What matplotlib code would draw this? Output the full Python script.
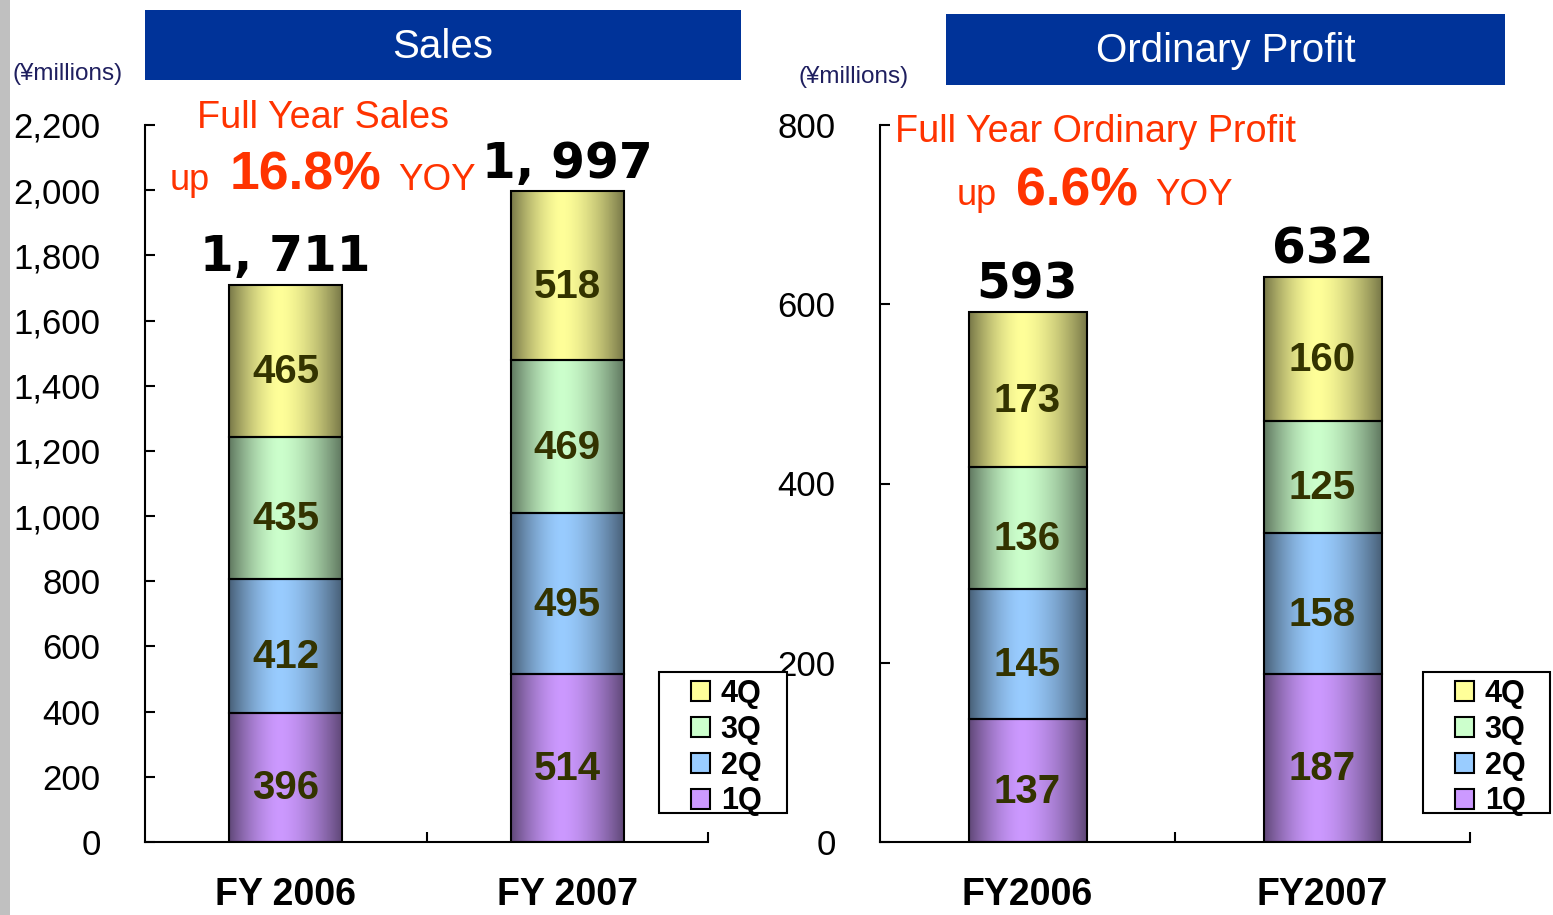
import numpy as np
import matplotlib
matplotlib.use('Agg')
import matplotlib.pyplot as plt
import matplotlib.colors as mcolors
from matplotlib.patches import Patch, Rectangle
from matplotlib.ticker import FuncFormatter

plt.rcParams['font.family'] = ['Liberation Sans', 'DejaVu Sans']

# data (yen millions)
sales_years = ['FY 2006', 'FY 2007']
sales_1q = [396, 514]
sales_2q = [412, 495]
sales_3q = [435, 469]
sales_4q = [465, 518]
sales_total = [1711, 1997]

profit_years = ['FY2006', 'FY2007']
profit_1q = [137, 187]
profit_2q = [145, 158]
profit_3q = [136, 125]
profit_4q = [173, 160]
profit_total = [593, 632]

quarters = ['1Q', '2Q', '3Q', '4Q']
q_colors = ['#CC99FF', '#99CCFF', '#CCFFCC', '#FFFF99']

W, H = 1553, 915


def fx(x):
    return x / W


def fy(y):
    return 1 - y / H


def gradient_fill(ax, bars, color):
    light = np.array(mcolors.to_rgb(color))
    dark = light * 0.47
    t = np.linspace(0, 1, 200)
    d = np.where(t < 0.45, (0.45 - t) / 0.45, (t - 0.45) / 0.55)
    f = 1 - d ** 1.6
    img = (dark + (light - dark) * f[:, None])[None, :, :]
    for b in bars:
        x0, y0 = b.get_xy()
        ax.imshow(img, extent=[x0, x0 + b.get_width(), y0, y0 + b.get_height()],
                  aspect='auto', interpolation='bilinear', zorder=2)


def draw_panel(ax, labels, series, totals, ymax, step):
    x = np.arange(len(labels))
    bottom = np.zeros(len(labels))
    for vals, col in zip(series, q_colors):
        bars = ax.bar(x, vals, 0.4, bottom=bottom, facecolor='none',
                      edgecolor='black', linewidth=1.5, zorder=3)
        gradient_fill(ax, bars, col)
        for b, v in zip(bars, vals):
            ax.annotate(str(v), (b.get_x() + b.get_width() / 2, b.get_y() + b.get_height() / 2),
                        xytext=(0, -5), textcoords='offset points', ha='center',
                        va='center_baseline', fontsize=29, fontweight='bold',
                        color='#333300', zorder=4)
        bottom += np.array(vals)
    for xi, top, tot in zip(x, bottom, totals):
        ax.annotate(f'{tot:,}'.replace(',', ', '), (xi, top), xytext=(0, 10),
                    textcoords='offset points', ha='center', va='baseline',
                    fontsize=35, fontweight='bold', family='DejaVu Sans')
    ax.set_xlim(-0.5, len(labels) - 0.5)
    ax.set_ylim(0, ymax)
    ax.set_yticks(np.arange(0, ymax + 1, step))
    ax.yaxis.set_major_formatter(FuncFormatter(lambda v, p: f'{int(v):,}'))
    ax.set_xticks(x)
    ax.set_xticklabels(labels, fontsize=27, fontweight='bold')
    ax.set_xticks(x + 0.5, minor=True)
    ax.tick_params(axis='x', which='major', length=0, pad=25)
    ax.tick_params(axis='x', which='minor', direction='in', length=7, width=1.5)
    ax.tick_params(axis='y', direction='in', length=7, width=1.5,
                   labelsize=25, pad=32)
    for s in ['top', 'right']:
        ax.spines[s].set_visible(False)
    for s in ['left', 'bottom']:
        ax.spines[s].set_linewidth(1.5)


fig = plt.figure(figsize=(W / 100, H / 100), dpi=100)

# grey strip at left edge
fig.patches.append(Rectangle((0, 0), fx(10), 1, transform=fig.transFigure,
                             facecolor='#C0C0C0', edgecolor='none', zorder=0))

ax1 = fig.add_axes([fx(145), fy(842), fx(708) - fx(145), fy(125) - fy(842)])
draw_panel(ax1, sales_years, [sales_1q, sales_2q, sales_3q, sales_4q],
           sales_total, 2200, 200)

ax2 = fig.add_axes([fx(880), fy(842), fx(1470) - fx(880), fy(125) - fy(842)])
draw_panel(ax2, profit_years, [profit_1q, profit_2q, profit_3q, profit_4q],
           profit_total, 800, 200)

# title banners
for (x0, y0, x1, y1, title) in [(145, 10, 741, 80, 'Sales'),
                                (946, 14, 1505, 85, 'Ordinary Profit')]:
    fig.patches.append(Rectangle((fx(x0), fy(y1)), fx(x1) - fx(x0), fy(y0) - fy(y1),
                                 transform=fig.transFigure, facecolor='#003399',
                                 edgecolor='none', zorder=1))
    fig.text(fx((x0 + x1) / 2), fy((y0 + y1) / 2 + 2), title, color='white',
             fontsize=29, ha='center', va='center', zorder=2)

# units
fig.text(fx(13), fy(74), '(¥millions)', fontsize=17.5, color='#1F1F5F', va='center')
fig.text(fx(799), fy(77), '(¥millions)', fontsize=17.5, color='#1F1F5F', va='center')

# YOY annotations
red = '#FF3300'
fig.text(fx(197), fy(128), 'Full Year Sales', color=red, fontsize=27.2, va='baseline')
fig.text(fx(170), fy(190), 'up', color=red, fontsize=26, va='baseline')
fig.text(fx(230), fy(190), '16.8%', color=red, fontsize=38.5, fontweight='bold', va='baseline')
fig.text(fx(398), fy(190), 'YOY', color=red, fontsize=26.5, va='baseline')

fig.text(fx(895), fy(142), 'Full Year Ordinary Profit', color=red, fontsize=27.2, va='baseline')
fig.text(fx(957), fy(205), 'up', color=red, fontsize=26, va='baseline')
fig.text(fx(1016), fy(205), '6.6%', color=red, fontsize=38.5, fontweight='bold', va='baseline')
fig.text(fx(1155), fy(205), 'YOY', color=red, fontsize=26.5, va='baseline')

# legends
handles = [Patch(facecolor=mcolors.to_rgb(c), edgecolor='black', linewidth=1.5, label=q)
           for q, c in zip(quarters, q_colors)][::-1]
for (x0, y0, x1, y1) in [(659, 672, 787, 813), (1423, 672, 1550, 813)]:
    fig.patches.append(Rectangle((fx(x0), fy(y1)), fx(x1) - fx(x0), fy(y0) - fy(y1),
                                 transform=fig.transFigure, facecolor='white',
                                 edgecolor='black', linewidth=1.5, zorder=4))
    fig.legend(handles=handles, loc='upper left', bbox_to_anchor=(fx(x0 + 32), fy(y0 + 7)),
               frameon=False, borderpad=0, borderaxespad=0, handlelength=0.62,
               handleheight=0.62, handletextpad=0.35, labelspacing=0.19,
               prop={'size': 22, 'weight': 'bold'}).set_zorder(5)

fig.savefig('out.png', dpi=100)
